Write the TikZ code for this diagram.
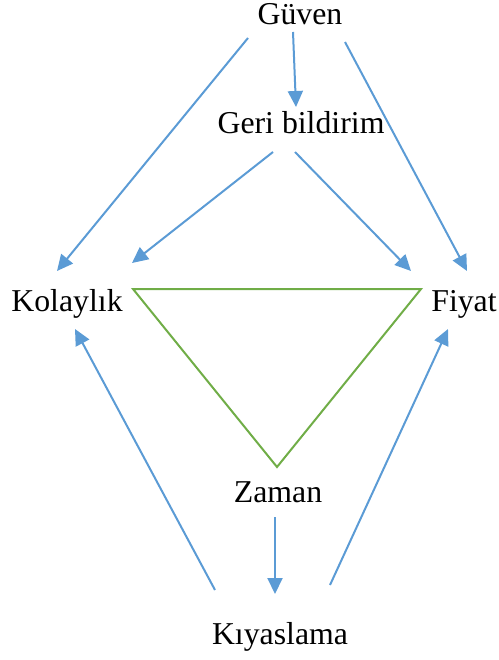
\documentclass[tikz,border=0pt]{standalone}
\usepackage{fontspec}
\setmainfont{Liberation Serif}
\usetikzlibrary{arrows.meta}
\definecolor{arrowblue}{HTML}{5B9BD5}
\definecolor{trigreen}{HTML}{70AD47}
\tikzset{
  lbl/.style={inner sep=0pt, font=\fontsize{31.8}{38}\selectfont},
  conn/.style={draw=arrowblue, line width=2pt, -{Triangle[length=16pt,width=15pt]}},
  tri/.style={draw=trigreen, line width=2pt, line join=miter}
}
\begin{document}
\begin{tikzpicture}[x=1pt,y=-1pt]
\useasboundingbox (0,0) rectangle (498,660);
% labels
\node[lbl] (guven) at (300,14) {Güven};
\node[lbl] (geri) at (301,123) {Geri bildirim};
\node[lbl] (kolay) at (67,304) {Kolaylık};
\node[lbl] (fiyat) at (464,304) {Fiyat};
\node[lbl] (zaman) at (278,492) {Zaman};
\node[lbl] (kiyas) at (280,637) {Kıyaslama};
% connector ends
\coordinate (g1) at (248,38);  \coordinate (k1) at (57,271);
\coordinate (g2) at (293,32);  \coordinate (b2) at (296,107);
\coordinate (g3) at (345,42);  \coordinate (f3) at (467,271);
\coordinate (b4) at (273,152); \coordinate (k4) at (132,263);
\coordinate (b5) at (295,152); \coordinate (f5) at (411,271);
\coordinate (q6) at (215,590); \coordinate (k6) at (75,329);
\coordinate (q7) at (330,585); \coordinate (f7) at (448,329);
\coordinate (z8) at (275,517); \coordinate (q8) at (275,594);
\draw[conn] (g1) -- (k1);
\draw[conn] (g2) -- (b2);
\draw[conn] (g3) -- (f3);
\draw[conn] (b4) -- (k4);
\draw[conn] (b5) -- (f5);
\draw[conn] (q6) -- (k6);
\draw[conn] (q7) -- (f7);
\draw[conn] (z8) -- (q8);
% triangle
\coordinate (t1) at (133,289);
\coordinate (t2) at (421,289);
\coordinate (t3) at (277,467);
\draw[tri] (t1) -- (t2) -- (t3) -- cycle;
\end{tikzpicture}
\end{document}
